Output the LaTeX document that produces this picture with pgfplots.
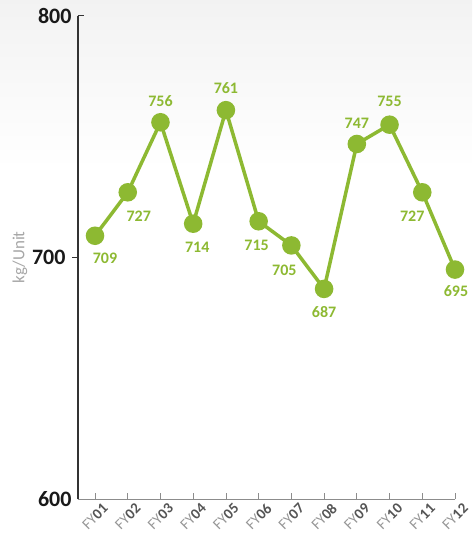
\documentclass[border=0pt]{standalone}
\usepackage{fontspec}
\setmainfont{Carlito}
\usepackage{pgfplots}
\usepackage{pgfplotstable}
\pgfplotsset{compat=1.18}

\definecolor{lgreen}{RGB}{141,185,50}
\definecolor{fygray}{RGB}{150,150,150}
\definecolor{numgray}{RGB}{85,85,85}

% x  value  label offsets (pt)
\pgfplotstableread{
x  y    dx   dy
1  709  10  -23
2  727  11  -24
3  756   0   21
4  714   4  -24
5  761   0   22
6  715  -2  -24
7  705  -7  -25
8  687   0  -23
9  747   0   21
10 755   0   23
11 727 -10  -24
12 695   1  -22
}\intensity

% rotated fiscal-year label
\newcommand{\fy}[1]{\rotatebox{45}{\fontsize{15}{15}\selectfont\textcolor{fygray}{FY}\textcolor{numgray}{\bfseries #1}}\hspace{12pt}}

\begin{document}
\begin{tikzpicture}
\shade[top color=black!5, bottom color=white] (-78pt,330pt) rectangle (394pt,499pt);
\begin{axis}[
    at={(0,0)}, anchor=south west,
    scale only axis, width=377pt, height=483pt,
    xmin=0.48, xmax=12, ymin=600, ymax=800,
    axis lines=left, axis line style={-},
    x axis line style={draw=black!45, line width=0.9pt},
    y axis line style={draw=black!80, line width=1.2pt},
    clip=false,
    /pgf/number format/assume math mode=true,
    tick align=inside, major tick length=6pt,
    xtick={1,...,12},
    xticklabels={\fy{01},\fy{02},\fy{03},\fy{04},\fy{05},\fy{06},\fy{07},\fy{08},\fy{09},\fy{10},\fy{11},\fy{12}},
    every x tick/.append style={draw=black!45, line width=0.8pt},
    ytick={600,800},
    every y tick/.append style={draw=black!80, line width=1pt},
    extra y ticks={700},
    extra y tick style={tick align=outside},
    every y tick label/.append style={font=\bfseries\fontsize{22}{22}\selectfont, text=black!90, xshift=-3pt},
    ylabel={kg/Unit},
    every axis y label/.style={at={(axis description cs:-0.154,0.5)}, rotate=90, anchor=center, font=\fontsize{17}{17}\selectfont, text=black!35},
]
\addplot[lgreen, line width=3.5pt, mark=*, mark size=7.5pt,
    mark options={draw=none, fill=lgreen},
    visualization depends on={\thisrow{dx} \as \dx},
    visualization depends on={\thisrow{dy} \as \dy},
    point meta=explicit, nodes near coords,
    nodes near coords style={font=\bfseries\fontsize{16}{16}\selectfont, text=lgreen, anchor=center, xshift=\dx pt, yshift=\dy pt},
] table[x=x, y=y, meta=y] {\intensity};
\end{axis}
\pgfresetboundingbox
\path (-78pt,-40pt) rectangle (394pt,499pt);
\end{tikzpicture}
\end{document}
